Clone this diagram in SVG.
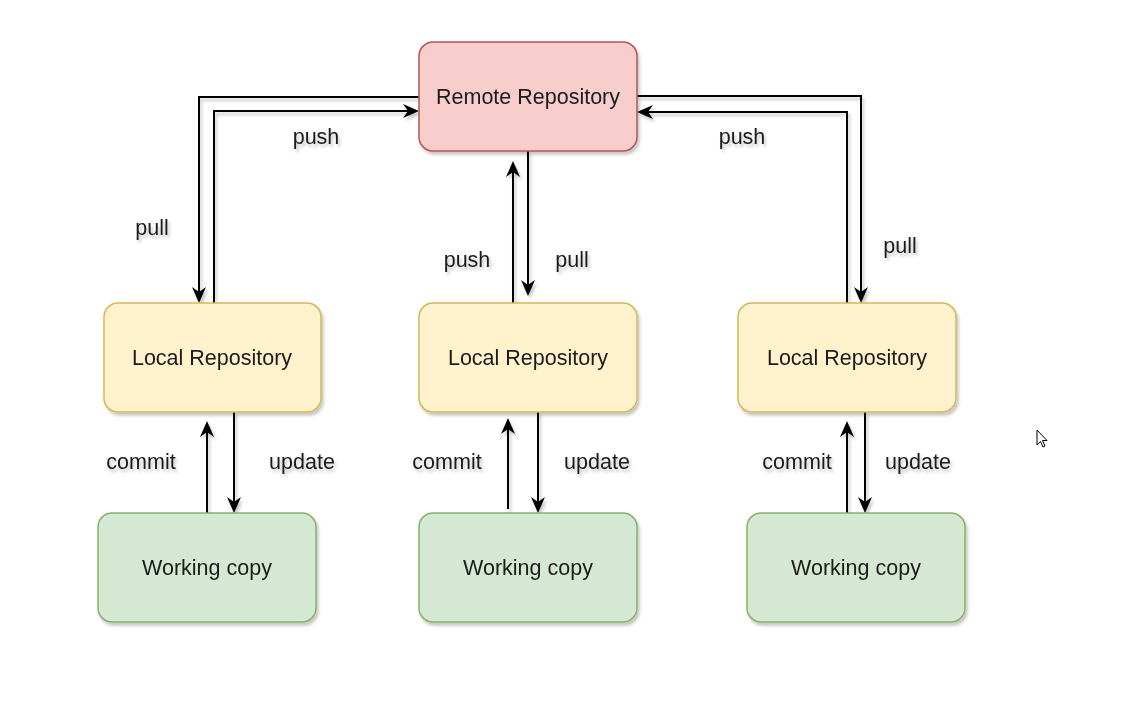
<svg xmlns="http://www.w3.org/2000/svg" width="1142" height="716" viewBox="0 0 1142 716">
<style>
.txt{font-family:"Liberation Sans",Arial,sans-serif;font-size:21.5px;fill:#1a1a1a;text-anchor:middle}
.remote{fill:#f8cecc;stroke:#b85450;stroke-width:1.5}
.local{fill:#fff2cc;stroke:#d6b656;stroke-width:1.5}
.work{fill:#d5e8d4;stroke:#82b366;stroke-width:1.5}
.edge{fill:none;stroke:#000;stroke-width:2;marker-end:url(#arr)}
</style>
<defs>
<filter id="sh" x="-20%" y="-20%" width="140%" height="140%">
<feDropShadow dx="2" dy="3" stdDeviation="1.6" flood-color="#000" flood-opacity="0.22"/>
</filter>
<marker id="arr" viewBox="0 0 16 14" refX="12" refY="7" markerWidth="16" markerHeight="14" markerUnits="userSpaceOnUse" orient="auto">
<path d="M0,0 L16,7 L0,14 L5,7 Z" fill="#000"/>
</marker>
</defs>
<rect width="1142" height="716" fill="#fff"/>
<g id="connectors" filter="url(#sh)">
<path class="edge" d="M419,97 H199 V299"/>
<path class="edge" d="M214,303 V111 H415"/>
<path class="edge" d="M513,303 V165"/>
<path class="edge" d="M528,151 V292"/>
<path class="edge" d="M637,96 H861 V299"/>
<path class="edge" d="M847,303 V112 H641"/>
<path class="edge" d="M207,513 V425"/>
<path class="edge" d="M234,412 V509"/>
<path class="edge" d="M508,509 V422"/>
<path class="edge" d="M538,412 V509"/>
<path class="edge" d="M847,513 V425"/>
<path class="edge" d="M865,412 V509"/>
</g>
<g id="labels" filter="url(#sh)">
<text class="txt" x="152" y="235">pull</text>
<text class="txt" x="316" y="144">push</text>
<text class="txt" x="467" y="267">push</text>
<text class="txt" x="572" y="267">pull</text>
<text class="txt" x="742" y="144">push</text>
<text class="txt" x="900" y="253">pull</text>
<text class="txt" x="141" y="469">commit</text>
<text class="txt" x="302" y="469">update</text>
<text class="txt" x="447" y="469">commit</text>
<text class="txt" x="597" y="469">update</text>
<text class="txt" x="797" y="469">commit</text>
<text class="txt" x="918" y="469">update</text>
</g>
<g id="remote" filter="url(#sh)">
<rect class="remote" x="419" y="42" width="218" height="109" rx="14"/>
<text class="txt" x="528" y="104">Remote Repository</text>
</g>
<g id="local1" filter="url(#sh)">
<rect class="local" x="104" y="303" width="217" height="109" rx="14"/>
<text class="txt" x="212" y="365">Local Repository</text>
</g>
<g id="local2" filter="url(#sh)">
<rect class="local" x="419" y="303" width="218" height="109" rx="14"/>
<text class="txt" x="528" y="365">Local Repository</text>
</g>
<g id="local3" filter="url(#sh)">
<rect class="local" x="738" y="303" width="218" height="109" rx="14"/>
<text class="txt" x="847" y="365">Local Repository</text>
</g>
<g id="work1" filter="url(#sh)">
<rect class="work" x="98" y="513" width="218" height="109" rx="14"/>
<text class="txt" x="207" y="575">Working copy</text>
</g>
<g id="work2" filter="url(#sh)">
<rect class="work" x="419" y="513" width="218" height="109" rx="14"/>
<text class="txt" x="528" y="575">Working copy</text>
</g>
<g id="work3" filter="url(#sh)">
<rect class="work" x="747" y="513" width="218" height="109" rx="14"/>
<text class="txt" x="856" y="575">Working copy</text>
</g>
<path d="M1037,430 L1037,445 L1040.5,441.5 L1043,447 L1045,446 L1042.5,440.5 L1047,440.5 Z" fill="#fff" stroke="#000" stroke-width="1"/>
</svg>
